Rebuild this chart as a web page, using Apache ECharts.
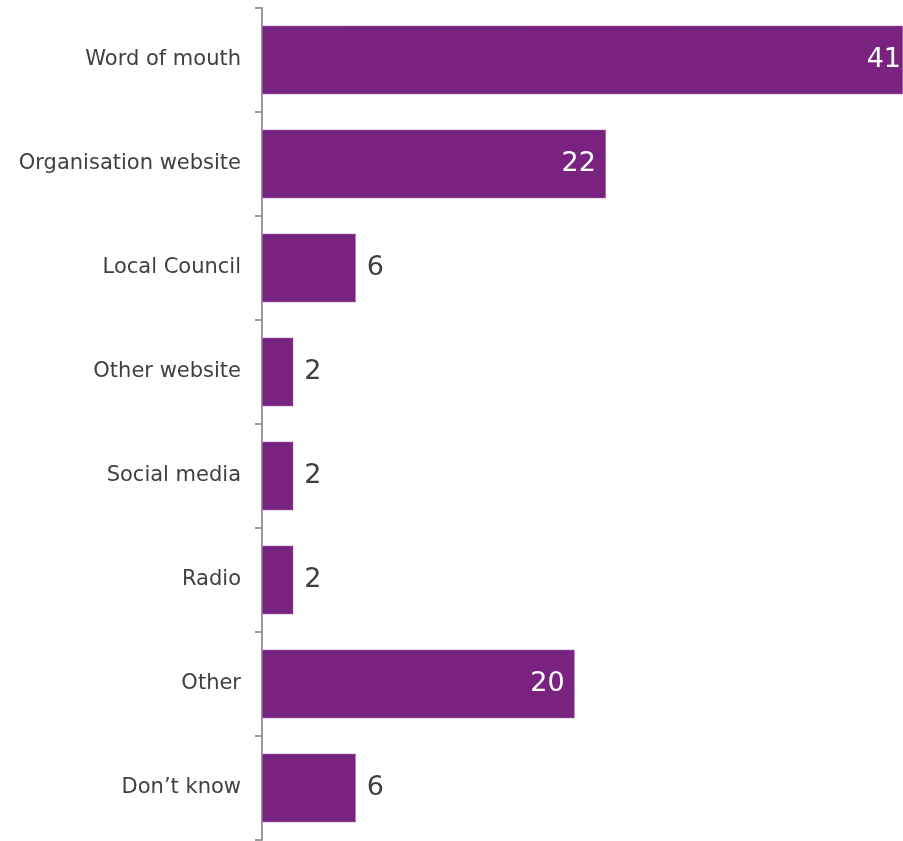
<!DOCTYPE html>
<html>
<head>
<meta charset="utf-8">
<script src="https://cdn.jsdelivr.net/npm/echarts@6/dist/echarts.min.js"></script>
<style>
  html, body { margin: 0; padding: 0; background: #ffffff; }
  #chart { width: 903px; height: 841px; }
</style>
</head>
<body>
<div id="chart"></div>
<script>
// Where respondents heard about the service (counts)
const categories = [
  'Word of mouth',
  'Organisation website',
  'Local Council',
  'Other website',
  'Social media',
  'Radio',
  'Other',
  'Don\u2019t know'
];
const counts = [41, 22, 6, 2, 2, 2, 20, 6];
const maxCount = 41;

const barColor = '#7a2280';
const fontFamily = 'Verdana, "DejaVu Sans", sans-serif';

// Long bars carry their value inside, short bars just beyond the end;
// the longest bar reaches the chart edge, so its label sits tight to it
const seriesData = counts.map(v => {
  const inside = v >= 10;
  return {
    value: v,
    label: inside
      ? { position: 'insideRight', color: '#ffffff', distance: v === maxCount ? 2 : 10 }
      : { position: 'right', color: '#404040', distance: 11 }
  };
});

const chart = echarts.init(document.getElementById('chart'), null, { renderer: 'canvas' });
chart.setOption({
  animation: false,
  backgroundColor: '#ffffff',
  grid: { left: 262, right: 0, top: 8, bottom: 1, containLabel: false },
  xAxis: {
    type: 'value',
    min: 0,
    max: maxCount,
    show: false
  },
  yAxis: {
    type: 'category',
    data: categories,
    inverse: true,
    axisLine: { show: true, lineStyle: { color: '#9a9a9a', width: 2 } },
    axisTick: { show: true, inside: false, length: 7, lineStyle: { color: '#9a9a9a', width: 2 } },
    axisLabel: { color: '#404040', fontSize: 21, fontFamily: fontFamily, margin: 21 },
    splitLine: { show: false }
  },
  series: [{
    type: 'bar',
    data: seriesData,
    barCategoryGap: '34%',
    itemStyle: { color: barColor, borderColor: '#b07cb4', borderWidth: 0.5 },
    label: { show: true, fontSize: 27, fontFamily: fontFamily }
  }]
});
</script>
</body>
</html>
